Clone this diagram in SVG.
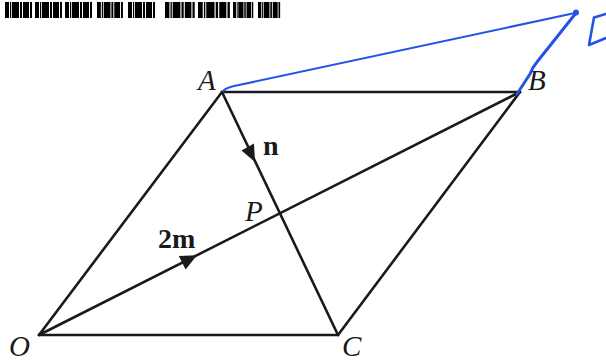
<svg xmlns="http://www.w3.org/2000/svg" width="606" height="363" viewBox="0 0 606 363">
<style>
.edge{stroke:#1a1a1a;stroke-width:2.6;fill:none;stroke-linecap:round;stroke-linejoin:round}
.lbl{font-family:"Liberation Serif","Times New Roman",serif;font-style:italic;font-size:29px;fill:#1a1a1a}
.vec{font-family:"Liberation Serif","Times New Roman",serif;font-weight:bold;font-size:28px;fill:#1a1a1a}
.head{fill:#1a1a1a}
.pen{stroke:#2454e6;fill:none;stroke-linecap:round;stroke-linejoin:round}
.bar{fill:#000}
</style>
<defs>
<g id="bc">
<rect class="bar" x="0" y="0" width="4" height="16"/>
<rect class="bar" x="5" y="0" width="1.2" height="16"/>
<rect class="bar" x="7" y="0" width="7" height="16"/>
<rect class="bar" x="15" y="0" width="2" height="16"/>
<rect class="bar" x="18" y="0" width="6" height="16"/>
<rect class="bar" x="25" y="0" width="2" height="16"/>
</g>
</defs>
<g id="barcode">
<use href="#bc" transform="translate(5,2)"/>
<use href="#bc" transform="translate(35,2)"/>
<use href="#bc" transform="translate(65,2)"/>
<use href="#bc" transform="translate(97,2) scale(0.96,1)"/>
<use href="#bc" transform="translate(128,2)"/>
<use href="#bc" transform="translate(165,2) scale(1.1,1)"/>
<use href="#bc" transform="translate(198,2) scale(1.18,1)"/>
<use href="#bc" transform="translate(233,2) scale(0.75,1)"/>
<use href="#bc" transform="translate(258,2) scale(0.82,1)"/>
</g>
<g id="connectors">
<line class="edge" x1="39" y1="335" x2="222" y2="92"/>
<line class="edge" x1="222" y1="92" x2="520" y2="92"/>
<line class="edge" x1="520" y1="92" x2="338" y2="335"/>
<line class="edge" x1="39" y1="335" x2="338" y2="335"/>
<line class="edge" x1="39" y1="335" x2="520" y2="92"/>
<line class="edge" x1="222" y1="92" x2="338" y2="335"/>
<polygon id="arrow-n" class="head" points="255,162 254,143.5 241.5,150.5"/>
<polygon id="arrow-2m" class="head" points="197,255.2 178.8,256 185.6,269.4"/>
</g>
<g id="O"><text class="lbl" x="9" y="356">O</text></g>
<g id="A"><text class="lbl" x="198" y="90">A</text></g>
<g id="B"><text class="lbl" x="528" y="90">B</text></g>
<g id="C"><text class="lbl" x="342" y="356">C</text></g>
<g id="P"><text class="lbl" x="245" y="221">P</text></g>
<g id="n"><text class="vec" x="263" y="155">n</text></g>
<g id="m2"><text class="vec" x="158" y="248">2m</text></g>
<g id="annotation">
<path class="pen" stroke-width="2" d="M223,91 Q226,88 232,86.5 L575,13"/>
<path class="pen" stroke-width="3" d="M576,13 L537,62 Q532,68 530,74 L517,94"/>
<circle cx="576" cy="12.5" r="3" fill="#2454e6"/>
<path class="pen" stroke-width="2.6" d="M606,14 L594,17.5 L589,45 L606,38"/>
</g>
</svg>
